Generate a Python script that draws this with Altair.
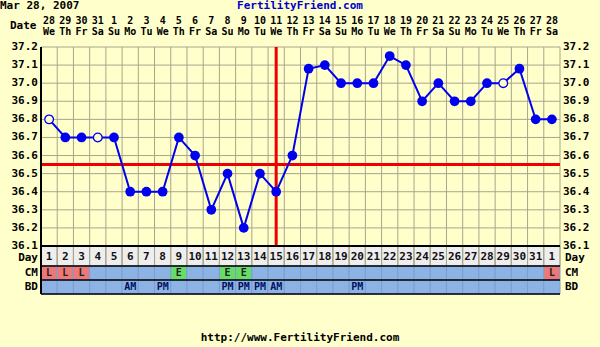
import altair as alt
import pandas as pd

# ---------------- data ----------------
days = list(range(1, 33))
temps = [36.8, 36.7, 36.7, 36.7, 36.7, 36.4, 36.4, 36.4, 36.7, 36.6,
         36.3, 36.5, 36.2, 36.5, 36.4, 36.6, 37.08, 37.1, 37.0, 37.0,
         37.0, 37.15, 37.1, 36.9, 37.0, 36.9, 36.9, 37.0, 37.0, 37.08,
         36.8, 36.8]
open_points = [1, 0, 0, 1, 0, 0, 0, 0, 0, 0, 0, 0, 0, 0, 0, 0,
               0, 0, 0, 0, 0, 0, 0, 0, 0, 0, 0, 0, 1, 0, 0, 0]
dates = ["28", "29", "30", "31", "1", "2", "3", "4", "5", "6", "7", "8",
         "9", "10", "11", "12", "13", "14", "15", "16", "17", "18", "19", "20",
         "21", "22", "23", "24", "25", "26", "27", "28"]
weekdays = ["We", "Th", "Fr", "Sa", "Su", "Mo", "Tu", "We", "Th", "Fr", "Sa",
            "Su", "Mo", "Tu", "We", "Th", "Fr", "Sa", "Su", "Mo", "Tu", "We",
            "Th", "Fr", "Sa", "Su", "Mo", "Tu", "We", "Th", "Fr", "Sa"]
cycle_days = ["1", "2", "3", "4", "5", "6", "7", "8", "9", "10", "11", "12",
              "13", "14", "15", "16", "17", "18", "19", "20", "21", "22", "23",
              "24", "25", "26", "27", "28", "29", "30", "31", "1"]
cm = ["L", "L", "L", "", "", "", "", "", "E", "", "", "E", "E", "", "", "",
      "", "", "", "", "", "", "", "", "", "", "", "", "", "", "", "L"]
bd = ["", "", "", "", "", "AM", "", "PM", "", "", "", "PM", "PM", "PM", "AM", "",
      "", "", "", "PM", "", "", "", "", "", "", "", "", "", "", "", ""]
y_ticks = [36.1, 36.2, 36.3, 36.4, 36.5, 36.6, 36.7, 36.8, 36.9, 37.0, 37.1, 37.2]
coverline = 36.55
ovulation_day = 15

# ---------------- style ----------------
W, H = 519, 199
BG = "#FFFFCC"
GRID = "#A9A58A"
BLUE = "#0000EE"
RED = "#EE0000"
FONT = "DejaVu Sans Mono"
FS = 10
ROW_BLUE = "#8DB3E5"
CM_COLORS = {"L": "#EE7777", "E": "#66DD66", "": ROW_BLUE}

df = pd.DataFrame({
    "day": days, "temp": temps, "open": open_points, "date": dates,
    "wd": weekdays, "cd": cycle_days, "cm": cm, "bd": bd,
})
df["cmcolor"] = [CM_COLORS[c] for c in cm]

xs = alt.Scale(domain=[0.5, 32.5], nice=False, zero=False)
ys = alt.Scale(domain=[36.1, 37.2], nice=False, zero=False)
X = alt.X("day:Q", scale=xs, axis=None)
Y = alt.Y("temp:Q", scale=ys, axis=None)

base = alt.Chart(df)

# grid lines
vgrid = base.transform_calculate(b="datum.day - 0.5").mark_rule(
    color=GRID, strokeWidth=1).encode(
    x=alt.X("b:Q", scale=xs, axis=None), y=alt.value(0), y2=alt.value(H + 20))
vgrid_end = alt.Chart(pd.DataFrame({"b": [days[-1] + 0.5]})).mark_rule(
    color=GRID, strokeWidth=1).encode(
    x=alt.X("b:Q", scale=xs, axis=None), y=alt.value(0), y2=alt.value(H + 20))
hgrid = alt.Chart(pd.DataFrame({"t": y_ticks})).mark_rule(
    color=GRID, strokeWidth=1).encode(
    y=alt.Y("t:Q", scale=ys, axis=None), x=alt.value(0), x2=alt.value(W))

line = base.mark_line(color=BLUE, strokeWidth=2).encode(x=X, y=Y)
filled = base.transform_filter("datum.open == 0").mark_circle(
    size=95, color=BLUE, opacity=1).encode(x=X, y=Y)
hollow = base.transform_filter("datum.open == 1").mark_point(
    shape="circle", size=75, filled=False, fill=BG, fillOpacity=1,
    stroke=BLUE, strokeWidth=1.3, opacity=1).encode(x=X, y=Y)

cover = alt.Chart(pd.DataFrame({"v": [coverline]})).mark_rule(
    color=RED, strokeWidth=3).encode(
    y=alt.Y("v:Q", scale=ys, axis=None), x=alt.value(0), x2=alt.value(W))
ovul = alt.Chart(pd.DataFrame({"d": [ovulation_day]})).mark_rule(
    color=RED, strokeWidth=3).encode(
    x=alt.X("d:Q", scale=xs, axis=None), y=alt.value(0), y2=alt.value(H))

tick_df = pd.DataFrame({"t": y_ticks})
left_lbl = alt.Chart(tick_df).transform_calculate(
    s="format(datum.t, '.1f')").mark_text(
    align="right", baseline="middle", font=FONT, fontSize=FS + 1,
    fontWeight="bold", color="#000").encode(
    y=alt.Y("t:Q", scale=ys, axis=None), x=alt.value(-3), text="s:N")
right_lbl = alt.Chart(tick_df).transform_calculate(
    s="format(datum.t, '.1f')").mark_text(
    align="left", baseline="middle", font=FONT, fontSize=FS + 1,
    fontWeight="bold", color="#000").encode(
    y=alt.Y("t:Q", scale=ys, axis=None), x=alt.value(W + 3), text="s:N")

cells = base.transform_calculate(x1="datum.day - 0.5", x2="datum.day + 0.5")
X1 = alt.X("x1:Q", scale=xs, axis=None)
X2 = alt.X2("x2:Q")

day_row = cells.mark_rect(fill="#EEEEEE", stroke=GRID, strokeWidth=1).encode(
    x=X1, x2=X2, y=alt.value(H), y2=alt.value(H + 20))
cm_row = cells.mark_rect(stroke="#7A9FD0", strokeWidth=1).encode(
    x=X1, x2=X2, y=alt.value(H + 20), y2=alt.value(H + 34),
    fill=alt.Fill("cmcolor:N", scale=None))
bd_row = cells.mark_rect(fill=ROW_BLUE, stroke="#7A9FD0", strokeWidth=1).encode(
    x=X1, x2=X2, y=alt.value(H + 34), y2=alt.value(H + 48))

txt = dict(font=FONT, fontSize=FS, fontWeight="bold", baseline="middle")
day_txt = base.mark_text(color="#111", **dict(txt, fontSize=FS + 1)).encode(
    x=X, y=alt.value(H + 11), text="cd:N")
cm_txt = base.mark_text(color="#222", **txt).encode(
    x=X, y=alt.value(H + 27), text="cm:N")
bd_txt = base.mark_text(color="#001060", **txt).encode(
    x=X, y=alt.value(H + 41), text="bd:N")
date_txt = base.mark_text(color="#000", **txt).encode(
    x=X, y=alt.value(-26), text="date:N")
wd_txt = base.mark_text(color="#000", **txt).encode(
    x=X, y=alt.value(-15), text="wd:N")

def hrule(yy, w=1.5):
    return alt.Chart(pd.DataFrame({"k": [0]})).mark_rule(
        color="#000", strokeWidth=w).encode(
        x=alt.value(0), x2=alt.value(W), y=alt.value(yy))

seps = [hrule(H, 2), hrule(H + 20), hrule(H + 34), hrule(H + 48)]
left_border = alt.Chart(pd.DataFrame({"k": [0]})).mark_rule(
    color="#000", strokeWidth=2).encode(
    x=alt.value(0), y=alt.value(0), y2=alt.value(H + 48))

def label(s, x, y, align="left", color="#000", size=FS):
    t = dict(txt)
    t["fontSize"] = size
    return alt.Chart(pd.DataFrame({"n": [s]})).mark_text(
        align=align, color=color, **t).encode(
        x=alt.value(x), y=alt.value(y), text="n:N")

row_names = ["Day", "CM", "BD"]
row_y = [H + 12, H + 27, H + 41]
lab_parts = []
for name, yy in zip(row_names, row_y):
    lab_parts.append(label(name, -3, yy, align="right", size=FS + 1))
    lab_parts.append(label(name, W + 5, yy, align="left", size=FS + 1))

title_l = label("Mar 28, 2007", -41, -41, size=FS + 1)
title_c = label("FertilityFriend.com", 259, -41, align="center",
                color="#0000CC", size=FS + 1)
date_lbl = label("Date", -31, -21, size=FS + 1)
footer = label("http://www.FertilityFriend.com", 259, 291, align="center",
               size=FS + 1)

chart = alt.layer(
    day_row, vgrid, vgrid_end, hgrid, cover, ovul, line, filled, hollow,
    left_lbl, right_lbl, cm_row, bd_row, *seps, left_border,
    day_txt, cm_txt, bd_txt, date_txt, wd_txt,
    *lab_parts, title_l, title_c, date_lbl, footer,
).properties(
    width=W, height=H, autosize="none", background=BG,
    padding={"left": 41, "top": 47, "right": 40, "bottom": 101},
).configure_view(stroke=None)

chart.save("out.html", embed_options={"renderer": "svg", "actions": False})
